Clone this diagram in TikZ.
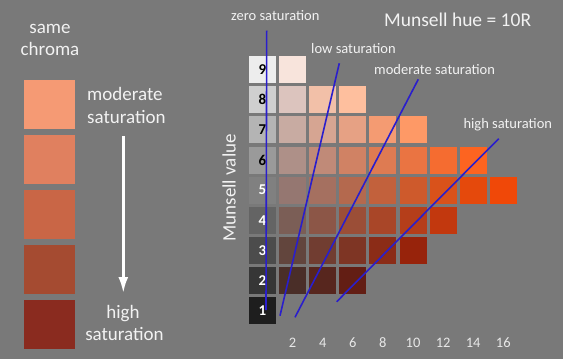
\documentclass[tikz,border=0pt]{standalone}
\usepackage{fontspec}
\setmainfont{Carlito}
\usetikzlibrary{arrows.meta}
\definecolor{bg}{HTML}{797979}
\definecolor{txt}{HTML}{F2F2F2}
\definecolor{linecol}{HTML}{2A1ECC}
\begin{document}
\begin{tikzpicture}[x=1pt,y=-1pt,
  cell/.style={minimum size=27pt,inner sep=0pt,draw=none},
  swatch/.style={minimum width=51pt,minimum height=49pt,inner sep=0pt},
  lbig/.style={text=txt,font=\fontsize{19}{22}\selectfont,inner sep=0pt},
  lsmall/.style={text=txt,font=\fontsize{14.5}{17}\selectfont,inner sep=0pt},
  axisnum/.style={text=txt!90!gray,font=\fontsize{14.5}{16}\selectfont,inner sep=0pt,anchor=base},
  graynum/.style={font=\bfseries\fontsize{15}{17}\selectfont,inner sep=0pt},
  satline/.style={draw=linecol,line width=1.6pt}]
\useasboundingbox[fill=bg] (0,0) rectangle (563,359);

% left swatches
\foreach \i/\y/\col in {1/104.5/F59A74,2/159.5/E0805F,3/214.5/C96646,4/269.5/A54B31,5/324/8A2B1F}{
  \definecolor{tmp}{HTML}{\col}
  \node[swatch,fill=tmp] (sw\i) at (49.5,\y) {};
}
\node[lbig,anchor=base] (same) at (50,33) {same};
\node[lbig,anchor=base] (chroma) at (50,55) {chroma};
\node[lbig,anchor=base west] (modA) at (87,100.7) {moderate};
\node[lbig,anchor=base west] (modB) at (87,123.3) {saturation};
\node[lbig,anchor=base] (highA) at (123,318) {high};
\node[lbig,anchor=base] (highB) at (124.5,340.7) {saturation};
\coordinate (arrS) at (123.3,136);
\coordinate (arrE) at (123.3,293);
\draw[white,line width=2.6pt,-{Latex[length=16pt,width=10pt]}] (arrS) -- (arrE);

% gray column
\foreach \v/\col/\tc in {9/EDEDED/black,8/CFCFCF/black,7/B4B4B4/black,6/9A9A9A/black,5/808080/white,4/646464/white,3/4C4C4C/white,2/363636/white,1/1E1E1E/white}{
  \definecolor{tmp}{HTML}{\col}
  \node[cell,fill=tmp,text=\tc,graynum] (c\v-0) at ({249+13.5},{297-30.1*(\v-1)+13.5}) {\v};
}
% chromatic cells
\foreach \v/\c/\col in {
  9/1/F8E4DC,
  8/1/DCC4BE,8/2/F2C0A8,8/3/FEBF9E,
  7/1/C8ABA2,7/2/D6A592,7/3/E6A184,7/4/F49B72,7/5/FE9966,
  6/1/AE9088,6/2/C08A78,6/3/D08264,6/4/DE7B52,6/5/EA7442,6/6/F56C30,6/7/FD6420,
  5/1/957771,5/2/A57060,5/3/B4694E,5/4/C2613C,5/5/CE5A2C,5/6/D9521B,5/7/E5490C,5/8/F04808,
  4/1/7B5E56,4/2/8C5647,4/3/9B4E37,4/4/A94628,4/5/B53E1A,4/6/C2380E,
  3/1/62453D,3/2/713D31,3/3/7E3524,3/4/8B2C17,3/5/97230B,
  2/1/4A2E28,2/2/57261E,2/3/631E14}{
  \definecolor{tmp}{HTML}{\col}
  \node[cell,fill=tmp] (c\v-\c) at ({249+30.1*\c+13.5},{297-30.1*(\v-1)+13.5}) {};
}
% chroma axis numbers
\foreach \c/\n in {1/2,2/4,3/6,4/8,5/10,6/12,7/14,8/16}{
  \node[axisnum] (ax\n) at ({249+30.1*\c+13.5},347.3) {\n};
}
\node[lbig,rotate=90,anchor=base west] (mval) at (235.5,241.7) {Munsell value};

% labels
\node[lsmall,anchor=base west] (zero) at (231,20.7) {zero saturation};
\node[text=txt,font=\fontsize{19.5}{22}\selectfont,inner sep=0pt,anchor=base west] (title) at (384,26.7) {Munsell hue = 10R};
\node[lsmall,anchor=base west] (low) at (311,53.3) {low saturation};
\node[lsmall,anchor=base west] (mod) at (374,74) {moderate saturation};
\node[lsmall,anchor=base west] (high) at (463.3,128.3) {high saturation};

% saturation lines
\coordinate (zt) at (266.7,30.7);
\coordinate (zb) at (266,310);
\coordinate (lt) at (339.3,63.3);
\coordinate (lb) at (280,315.7);
\coordinate (mt) at (418.3,79.3);
\coordinate (mb) at (295,317.3);
\coordinate (ht) at (498.7,138.7);
\coordinate (hb) at (336.7,301.7);
\draw[satline] (zt) -- (zb);
\draw[satline] (lt) -- (lb);
\draw[satline] (mt) -- (mb);
\draw[satline] (ht) -- (hb);
\end{tikzpicture}
\end{document}
